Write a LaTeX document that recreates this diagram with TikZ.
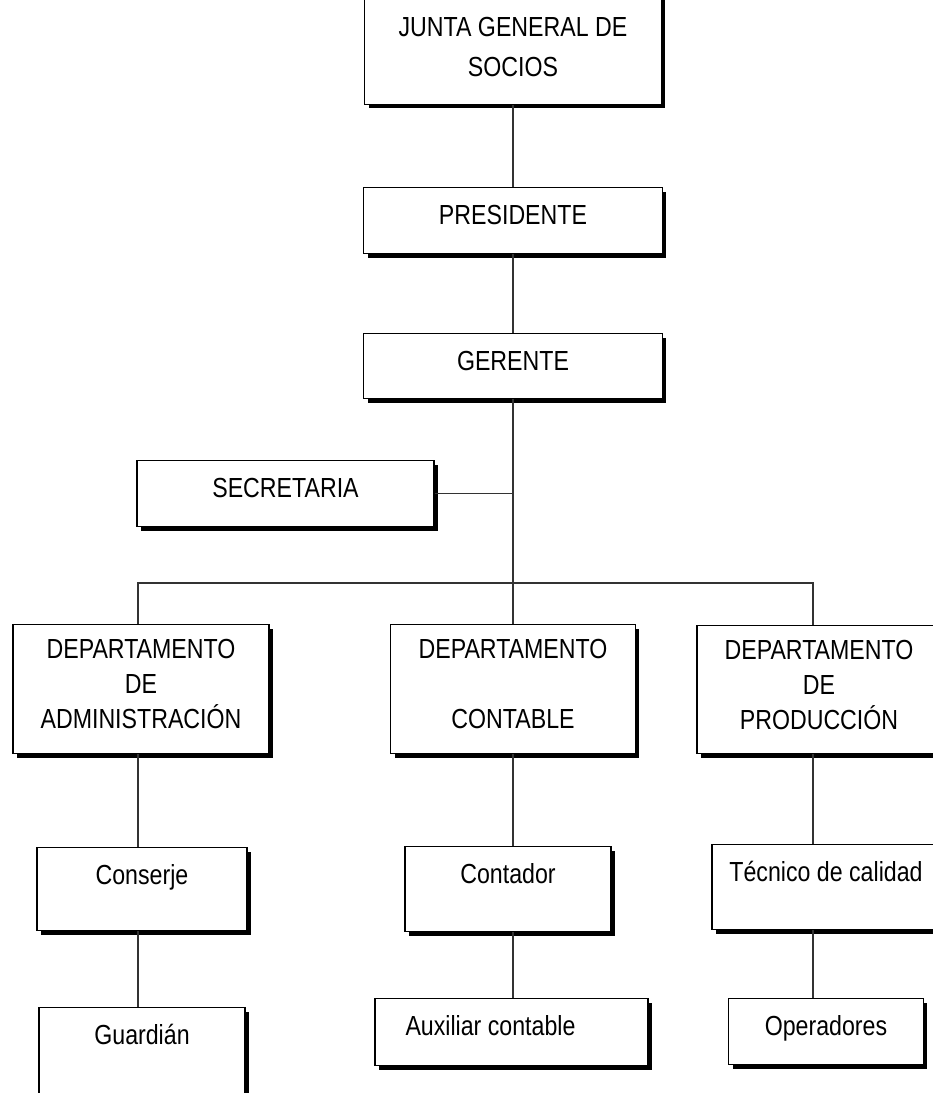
\documentclass[tikz,border=0pt]{standalone}
\usepackage{fontspec}
\setmainfont[FakeStretch=0.84]{Liberation Sans}
\usetikzlibrary{shadows}
\tikzset{
	caja/.style={draw, fill=white, line width=0.8pt, inner sep=0pt, align=center,
		drop shadow={shadow xshift=0.08cm, shadow yshift=-0.08cm, fill=black, opacity=1},
		font=\fontsize{15.7pt}{19.9pt}\selectfont},
	simple/.style={caja, anchor=north, text height=0.74cm, text depth=#1},
	linea/.style={line width=0.7pt, black!80}
}
\begin{document}
\begin{tikzpicture}[x=0.02cm, y=-0.02cm]
		\useasboundingbox (0,0) rectangle (933,1093);
		\clip (0,0) rectangle (933,1093);
		\node[caja, anchor=south, minimum width=5.94cm, minimum height=2.3cm] (junta) at (513,105) {JUNTA GENERAL DE\\[2.9pt]SOCIOS};
		\node[simple=0.58cm, minimum width=5.98cm] (pres) at (513,187) {PRESIDENTE};
		\node[simple=0.56cm, minimum width=5.98cm] (ger) at (513,333) {GERENTE};
		\node[simple=0.58cm, minimum width=5.94cm] (sec) at (285.5,460) {SECRETARIA};
		\node[caja, anchor=north, minimum width=5.12cm, minimum height=2.58cm] (dadm) at (141,624) {DEPARTAMENTO\\DE\\ADMINISTRACIÓN\\[-0.5cm]\mbox{}};
		\node[caja, anchor=north, minimum width=4.9cm, minimum height=2.58cm] (dcon) at (513,624) {DEPARTAMENTO\\\mbox{}\\CONTABLE\\[-0.5cm]\mbox{}};
		\node[caja, anchor=north, minimum width=4.88cm, minimum height=2.56cm] (dpro) at (819,625) {DEPARTAMENTO\\DE\\PRODUCCIÓN\\[-0.5cm]\mbox{}};
		\node[simple=0.92cm, minimum width=4.2cm] (conserje) at (142,847) {Conserje};
		\node[simple=0.96cm, minimum width=4.12cm] (contador) at (508,846) {Contador};
		\node[simple=0.96cm, minimum width=4.56cm] (tecnico) at (826,844) {Técnico de calidad};
		\node[simple=1.26cm, minimum width=4.12cm] (guardian) at (142,1007) {Guardián};
		\node[simple=0.6cm, minimum width=5.46cm] (auxiliar) at (511.5,998) {\hbox{Auxiliar contable\kern0.84cm}};
		\node[simple=0.58cm, minimum width=3.9cm] (operadores) at (826,998) {Operadores};
		% ramas
		\coordinate (bus) at (513,583);
		\coordinate (ra) at (138,583);
		\coordinate (rp) at (813,583);
		\draw[linea] (junta.south) -- (pres.north);
		\draw[linea] (pres.south) -- (ger.north);
		\draw[linea] (ger.south) -- (bus);
		\draw[linea] (sec.east) -- (sec.east -| bus);
		\draw[linea] (ra |- dadm.north) -- (ra) -- (rp) -- (rp |- dpro.north);
		\draw[linea] (bus) -- (dcon.north);
		\draw[linea] (ra |- dadm.south) -- (ra |- conserje.north);
		\draw[linea] (ra |- conserje.south) -- (ra |- guardian.north);
		\draw[linea] (bus |- dcon.south) -- (bus |- contador.north);
		\draw[linea] (bus |- contador.south) -- (bus |- auxiliar.north);
		\draw[linea] (rp |- dpro.south) -- (rp |- tecnico.north);
		\draw[linea] (rp |- tecnico.south) -- (rp |- operadores.north);
	\end{tikzpicture}
\end{document}
